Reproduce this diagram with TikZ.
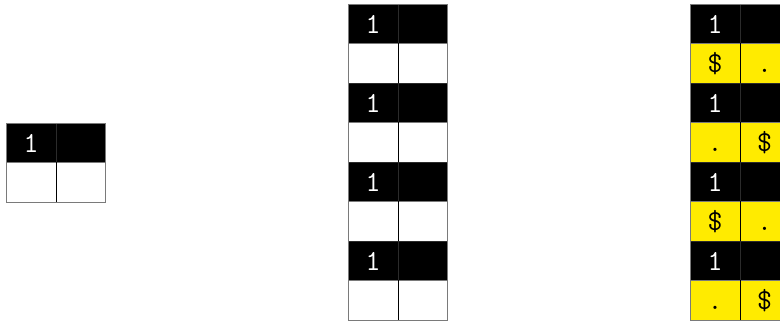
\documentclass[tikz,border=0pt]{standalone}
\usepackage{fontspec}
\usetikzlibrary{positioning}
\definecolor{cellgray}{HTML}{7A7A7A}
\definecolor{cellyellow}{HTML}{FFEB00}

\tikzset{
  cellbox/.style={draw=cellgray, line width=0.8pt, minimum width=49.5pt, minimum height=39.5pt,
                  inner sep=0pt, anchor=north west, font=\fontsize{29}{29}\selectfont\ttfamily,
                  text height=19pt, text depth=1pt},
  headcell/.style={cellbox, fill=black, text=white, draw=cellgray!35!black},
  emptycell/.style={cellbox, fill=white},
  markcell/.style={cellbox, fill=cellyellow, text=black},
  midline/.style={black, line width=0.9pt}
}

\begin{document}
\begin{tikzpicture}[x=1pt, y=-1pt]
    \useasboundingbox (0,0) rectangle (780,323);

    % single pair of rows
    \node[headcell] (sa) at (6, 123) {1};
    \node[headcell] (sb) at (55.5, 123) {};
    \node[emptycell] (sc) at (6, 162.5) {};
    \node[emptycell] (sd) at (55.5, 162.5) {};
    \draw[midline] (sc.north east) -- (sc.south east);

    % stacked rows, empty
    \foreach \r in {0,...,3} {
        \node[headcell] (ma\r) at (348, 4+79*\r) {1};
        \node[headcell] (mb\r) at (397.5, 4+79*\r) {};
        \node[emptycell] (mc\r) at (348, 43.5+79*\r) {};
        \node[emptycell] (md\r) at (397.5, 43.5+79*\r) {};
        \draw[midline] (mc\r.north east) -- (mc\r.south east);
    }

    % stacked rows, filled
    \foreach \r/\lsym/\rsym in {0/\$/., 1/./\$, 2/\$/., 3/./\$} {
        \node[headcell] (ra\r) at (690, 4+79*\r) {1};
        \node[headcell] (rb\r) at (739.5, 4+79*\r) {};
        \node[markcell] (rc\r) at (690, 43.5+79*\r) {\lsym};
        \node[markcell] (rd\r) at (739.5, 43.5+79*\r) {\rsym};
        \draw[midline] (rc\r.north east) -- (rc\r.south east);
    }

    % outer frames
    \draw[cellgray, line width=0.8pt] (sa.north west) rectangle (sd.south east);
    \draw[cellgray, line width=0.8pt] (ma0.north west) rectangle (md3.south east);
    \draw[cellgray, line width=0.8pt] (ra0.north west) rectangle (rd3.south east);
\end{tikzpicture}
\end{document}
